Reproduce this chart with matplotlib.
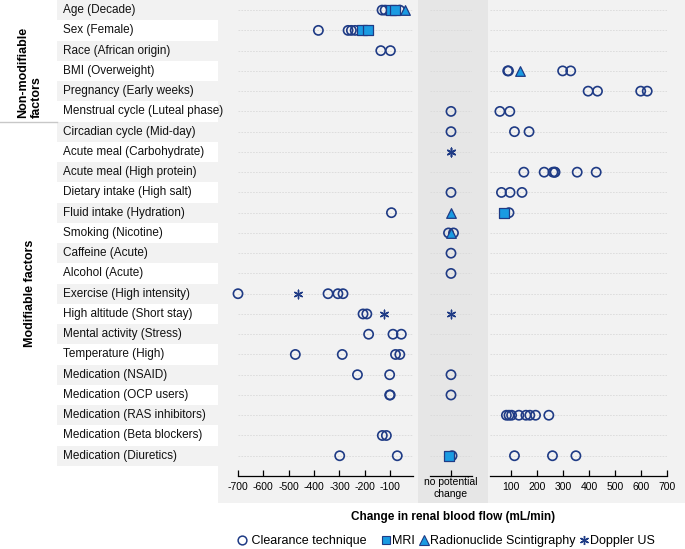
import matplotlib
matplotlib.use("Agg")
import matplotlib.pyplot as plt
import matplotlib.transforms as mtransforms
from matplotlib.patches import Rectangle
from matplotlib.lines import Line2D
import numpy as np

plt.rcParams['font.family'] = ['Liberation Sans', 'DejaVu Sans']

# ---------------- data ----------------
factors = [
    "Age (Decade)", "Sex (Female)", "Race (African origin)", "BMI (Overweight)",
    "Pregnancy (Early weeks)", "Menstrual cycle (Luteal phase)",
    "Circadian cycle (Mid-day)", "Acute meal (Carbohydrate)", "Acute meal (High protein)",
    "Dietary intake (High salt)", "Fluid intake (Hydration)", "Smoking (Nicotine)",
    "Caffeine (Acute)", "Alcohol (Acute)", "Exercise (High intensity)",
    "High altitude (Short stay)", "Mental activity (Stress)", "Temperature (High)",
    "Medication (NSAID)", "Medication (OCP users)", "Medication (RAS inhibitors)",
    "Medication (Beta blockers)", "Medication (Diuretics)",
]
group_names = ["Non-modifiable\nfactors", "Modifiable factors"]
group_first = [0, 6]
group_last = [5, 22]

# Clearance technique (row index, change in mL/min)
clearance_rows = [0, 0, 0,
                  1, 1, 1, 1,
                  2, 2,
                  3, 3, 3, 3,
                  4, 4, 4, 4,
                  5, 5, 5,
                  6, 6, 6,
                  8, 8, 8, 8, 8, 8, 8,
                  9, 9, 9, 9,
                  10, 10,
                  11, 11,
                  12, 13,
                  14, 14, 14, 14,
                  15, 15,
                  16, 16, 16,
                  17, 17, 17, 17,
                  18, 18, 18,
                  19, 19, 19,
                  20, 20, 20, 20, 20, 20, 20, 20,
                  21, 21,
                  22, 22, 22, 22, 22, 22]
clearance_vals = [-132, -120, -62,
                  -383, -266, -253, -238,
                  -137, -99,
                  88, 91, 299, 330,
                  397, 433, 599, 624,
                  0, 58, 96,
                  0, 114, 170,
                  150, 228, 262, 268, 270, 355, 428,
                  0, 64, 97, 143,
                  -95, 93,
                  0, 0,
                  0, 0,
                  -700, -345, -306, -286,
                  -207, -192,
                  -185, -89, -56,
                  -474, -289, -79, -62,
                  -229, -102, 0,
                  -102, -100, 0,
                  83, 93, 103, 131, 158, 173, 195, 246,
                  -131, -115,
                  -299, -72, 0, 114, 260, 350]

mri_rows = [0, 0, 1, 1, 10, 22]
mri_vals = [-98, -80, -211, -186, 73, 0]

radio_rows = [0, 3, 10, 11]
radio_vals = [-43, 137, 0, 0]

doppler_rows = [7, 7, 14, 15, 15]
doppler_vals = [0, 0, -464, -126, 0]

left_ticks = [-700, -600, -500, -400, -300, -200, -100]
right_ticks = [100, 200, 300, 400, 500, 600, 700]
middle_label = "no potential\nchange"
xlabel = "Change in renal blood flow (mL/min)"

NAVY = '#1f3b85'
BLUE = '#1a9be2'

# ---------------- layout ----------------
W, H = 685, 549
fig = plt.figure(figsize=(W / 100, H / 100), dpi=100)
fig.patch.set_facecolor('white')


def fx(px):
    return px / W


def fy(py):
    return 1 - py / H


ax_bottom_px = 476
axL = fig.add_axes([fx(238), fy(ax_bottom_px), (413 - 238) / W, ax_bottom_px / H])
axM = fig.add_axes([fx(430), fy(ax_bottom_px), (472 - 430) / W, ax_bottom_px / H])
axR = fig.add_axes([fx(490), fy(ax_bottom_px), (667 - 490) / W, ax_bottom_px / H])

n = len(factors)
axL.set_xlim(-700, -10)
axM.set_xlim(-80, 80)
axR.set_xlim(20, 700)

for ax in (axL, axM, axR):
    ax.set_ylim(n, -0.5)
    ax.set_facecolor('none')
    for s in ('top', 'right', 'left'):
        ax.spines[s].set_visible(False)
    ax.spines['bottom'].set_linewidth(0.9)
    ax.set_yticks(range(n))
    ax.tick_params(axis='y', length=0, labelleft=False)
    ax.yaxis.grid(True, color='#dadada', linestyle=(0, (2, 1.5)), linewidth=0.6)
    ax.set_axisbelow(True)
    ax.tick_params(axis='x', direction='in', length=4, width=0.9, labelsize=7.5, pad=4)

axL.set_xticks(left_ticks)
axL.set_xticklabels([str(t) for t in left_ticks])
axR.set_xticks(right_ticks)
axR.set_xticklabels([str(t) for t in right_ticks])
axM.set_xticks([0])
axM.set_xticklabels([middle_label], linespacing=1.15)
axM.tick_params(axis='x', pad=1)

# ---------------- backgrounds ----------------
blend = mtransforms.blended_transform_factory(fig.transFigure, axL.transData)
fig.add_artist(Rectangle((fx(218), fy(503)), (685 - 218) / W, 503 / H,
                         transform=fig.transFigure, facecolor='#f2f2f2',
                         edgecolor='none', zorder=-5))
fig.add_artist(Rectangle((fx(57), -0.5), (218 - 57) / W, n,
                         transform=blend, facecolor='#f2f2f2',
                         edgecolor='none', zorder=-5))
fig.add_artist(Rectangle((fx(418), fy(503)), (488 - 418) / W, 503 / H,
                         transform=fig.transFigure, facecolor='#e6e6e6',
                         edgecolor='none', zorder=-4))
for i in range(1, n, 2):
    fig.add_artist(Rectangle((fx(57), i - 0.5), (218 - 57) / W, 1,
                             transform=blend, facecolor='white',
                             edgecolor='none', zorder=-3))

# row labels
for i, name in enumerate(factors):
    fig.text(fx(63), i, name, transform=blend, ha='left', va='center',
             fontsize=8.5, color='#111111')

# group labels
for gname, a, b in zip(group_names, group_first, group_last):
    yc = (a + b) / 2 + (0.6 if a == 0 else 0)
    fig.text(fx(30), yc, gname, transform=blend, rotation=90,
             ha='center', va='center', fontsize=9, fontweight='bold',
             multialignment='left', linespacing=1.1)
sep = group_last[0] + 0.5
fig.add_artist(Line2D([0, fx(57)], [sep, sep], transform=blend,
                      color='#c8c8c8', linewidth=1.0))

# ---------------- points ----------------
rows_with_zero = {}
for meth, rows, vals in (('c', clearance_rows, clearance_vals), ('m', mri_rows, mri_vals),
                         ('r', radio_rows, radio_vals), ('d', doppler_rows, doppler_vals)):
    for r, v in zip(rows, vals):
        if v == 0:
            rows_with_zero.setdefault(r, []).append(meth)


def split(rows, vals, meth):
    rows = np.asarray(rows)
    vals = np.asarray(vals, dtype=float)
    out = {}
    neg = vals < 0
    pos = vals > 0
    zero = vals == 0
    out['L'] = (vals[neg], rows[neg])
    out['R'] = (vals[pos], rows[pos])
    zr = rows[zero]
    offs = []
    seen = {}
    for r in zr:
        lst = rows_with_zero[r]
        cnt = lst.count(meth)
        others = len(lst) - cnt
        k = seen.get(r, 0)
        seen[r] = k + 1
        if meth == 'c':
            if cnt == 2:
                offs.append(-9.5 if k == 0 else 9.5)
            elif others > 0:
                offs.append(4)
            else:
                offs.append(0)
        elif meth == 'm' and others > 0:
            offs.append(-9)
        else:
            offs.append(0)
    out['M'] = (np.zeros(len(zr)) + np.array(offs, dtype=float), zr)
    return out


styles = {
    'c': dict(marker='o', s=44, facecolors='none', edgecolors=NAVY, linewidths=1.2, zorder=3),
    'm': dict(marker='s', s=44, facecolors=BLUE, edgecolors=NAVY, linewidths=0.9, zorder=4),
    'r': dict(marker='^', s=48, facecolors=BLUE, edgecolors=NAVY, linewidths=0.9, zorder=5),
    'd': dict(marker=(6, 2, 0), s=38, color=NAVY, linewidths=1.0, zorder=6),
}
axes_map = {'L': axL, 'M': axM, 'R': axR}
for meth, rows, vals in (('c', clearance_rows, clearance_vals), ('m', mri_rows, mri_vals),
                         ('r', radio_rows, radio_vals), ('d', doppler_rows, doppler_vals)):
    parts = split(rows, vals, meth)
    for key, (xv, yv) in parts.items():
        if len(xv):
            axes_map[key].scatter(xv, yv, clip_on=False, **styles[meth])

# ---------------- x label & legend ----------------
fig.text(fx(453), fy(517), xlabel, ha='center', va='center',
         fontsize=8.5, fontweight='bold')

handles = [
    Line2D([], [], linestyle='none', marker='o', markersize=6.3, markerfacecolor='none',
           markeredgecolor=NAVY, markeredgewidth=1.1),
    Line2D([], [], linestyle='none', marker='s', markersize=6.3, markerfacecolor=BLUE,
           markeredgecolor=NAVY, markeredgewidth=0.8),
    Line2D([], [], linestyle='none', marker='^', markersize=6.5, markerfacecolor=BLUE,
           markeredgecolor=NAVY, markeredgewidth=0.8),
    Line2D([], [], linestyle='none', marker=(6, 2, 0), markersize=6.5, color=NAVY,
           markeredgewidth=1.0),
]
labels = [" Clearance technique   ", "MRI", "Radionuclide Scintigraphy", "Doppler US"]
fig.legend(handles, labels, loc='center', bbox_to_anchor=(fx(446), fy(541)),
           ncol=4, frameon=False, fontsize=9, handlelength=0.8,
           handletextpad=0.1, columnspacing=0.3, borderpad=0, borderaxespad=0)

fig.savefig("out.png", dpi=100)
